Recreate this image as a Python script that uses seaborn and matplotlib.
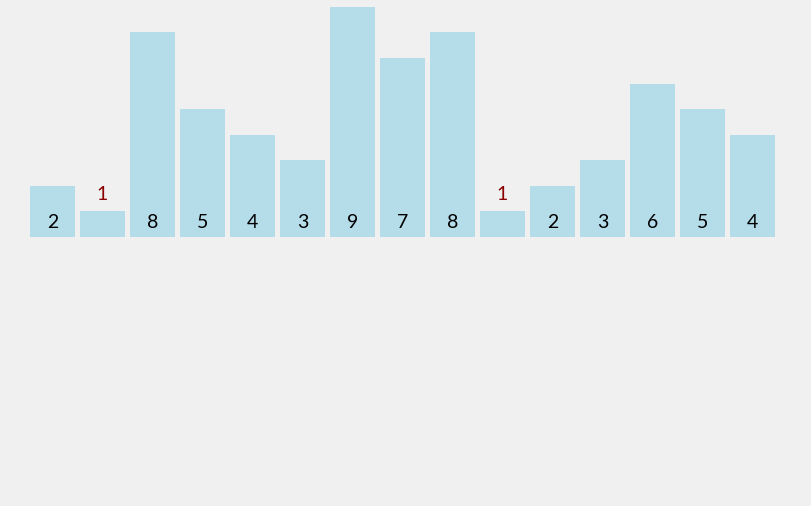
import numpy as np
import pandas as pd
import matplotlib
matplotlib.use('Agg')
import matplotlib.pyplot as plt
import seaborn as sns

# bar values, left to right
values = [2, 1, 8, 5, 4, 3, 9, 7, 8, 1, 2, 3, 6, 5, 4]
positions = list(range(len(values)))

df = pd.DataFrame({'pos': positions, 'value': values})

sns.set_style('white')
plt.rcParams['font.family'] = ['Lato', 'DejaVu Sans']

fig = plt.figure(figsize=(8.11, 5.061), dpi=100)
fig.patch.set_facecolor('#f0f0f0')

# axes placed so bar baseline / tallest bar sit where the reference has them
W, H = 811, 506
ax = fig.add_axes([27.5 / W, (H - 237) / H, 750 / W, 230 / H])
ax.set_facecolor('#f0f0f0')

sns.barplot(data=df, x='pos', y='value', color='#b4dce9', saturation=1,
            width=0.9, ax=ax, order=positions)
for p in ax.patches:
    p.set_edgecolor('none')

ax.set_xlim(-0.5, len(values) - 0.5)
ax.set_ylim(0, max(values))

for x, v in zip(positions, values):
    if v < 2:
        ax.annotate(str(v), (x, v), xytext=(0, 12), textcoords='offset points',
                    ha='center', va='center', fontsize=14, color='#8b0000')
    else:
        ax.annotate(str(v), (x, 0), xytext=(0, 10.5), textcoords='offset points',
                    ha='center', va='center', fontsize=14, color='black')

ax.set_xlabel('')
ax.set_ylabel('')
ax.set_xticks([])
ax.set_yticks([])
sns.despine(ax=ax, left=True, bottom=True)

fig.savefig('out.png', dpi=100, facecolor=fig.get_facecolor())
